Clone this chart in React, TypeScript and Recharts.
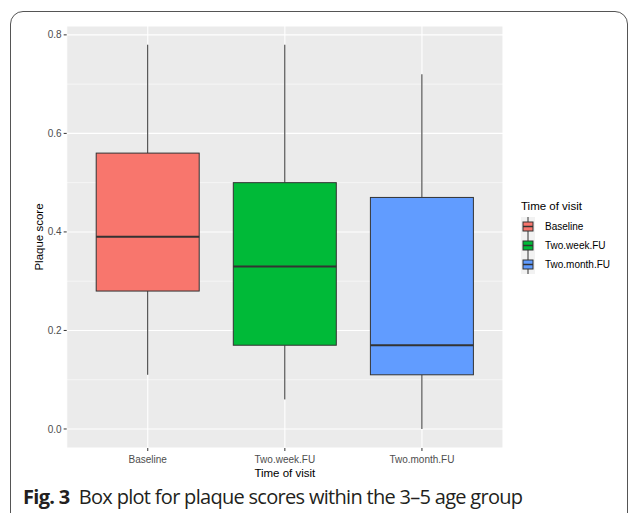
import React from 'react';
import { ComposedChart, Bar, XAxis, YAxis, CartesianGrid, ReferenceLine } from 'recharts';

const categories = ['Baseline', 'Two.week.FU', 'Two.month.FU'];
const whiskerLow = [0.11, 0.06, 0.0];
const q1Values = [0.28, 0.17, 0.11];
const medianValues = [0.39, 0.33, 0.17];
const q3Values = [0.56, 0.5, 0.47];
const whiskerHigh = [0.78, 0.78, 0.72];
const boxColors = ['#F8766D', '#00BA38', '#619CFF'];
const majorTicks = [0, 0.2, 0.4, 0.6, 0.8];
const minorTicks = [0.1, 0.3, 0.5, 0.7];
const yDomain = [-0.0386, 0.818];

const data = categories.map((c, i) => ({
  visit: c,
  range: [whiskerLow[i], whiskerHigh[i]],
  q1: q1Values[i],
  median: medianValues[i],
  q3: q3Values[i],
  fill: boxColors[i],
}));

const BoxShape = (props: any) => {
  const { x, y, width, height, payload } = props;
  const [lo, hi] = payload.range;
  const top = Math.min(y, y + height);
  const bottom = Math.max(y, y + height);
  const py = (v: number) => bottom - ((v - lo) / (hi - lo)) * (bottom - top);
  const cx = x + width / 2;
  return (
    <g>
      <line x1={cx} x2={cx} y1={py(hi)} y2={py(payload.q3)} stroke="#333333" strokeWidth={1} />
      <line x1={cx} x2={cx} y1={py(payload.q1)} y2={py(lo)} stroke="#333333" strokeWidth={1} />
      <rect
        x={x}
        y={py(payload.q3)}
        width={width}
        height={py(payload.q1) - py(payload.q3)}
        fill={payload.fill}
        stroke="#333333"
        strokeWidth={1}
      />
      <line x1={x} x2={x + width} y1={py(payload.median)} y2={py(payload.median)} stroke="#333333" strokeWidth={2} />
    </g>
  );
};

const LegendKey = ({ color }: { color: string }) => (
  <svg width={14} height={19} style={{ display: 'block' }}>
    <rect x={0} y={0} width={14} height={19} fill="#F2F2F2" />
    <line x1={7} x2={7} y1={0} y2={19} stroke="#333333" strokeWidth={1} />
    <rect x={2} y={5} width={10} height={9} fill={color} stroke="#333333" strokeWidth={1} />
    <line x1={2} x2={12} y1={9.5} y2={9.5} stroke="#333333" strokeWidth={1.5} />
  </svg>
);

export default function App() {
  const refProps: any = { zIndex: -50 };
  return (
    <div style={{ position: 'absolute', left: 0, top: 0, width: 629, height: 513, background: '#fff', overflow: 'hidden' }}>
      <div
        style={{
          position: 'absolute',
          left: 10,
          top: 11,
          width: 618,
          height: 540,
          border: '1.5px solid #555',
          borderRadius: 13,
          boxSizing: 'border-box',
        }}
      />
      <div style={{ position: 'absolute', left: 0, top: 0 }}>
        <ComposedChart
          width={629}
          height={513}
          data={data}
          margin={{ top: 26, right: 126, bottom: 35, left: 0 }}
          barSize={103}
        >
          <CartesianGrid fill="#EBEBEB" stroke="#FFFFFF" strokeWidth={1.1} vertical={true} horizontal={true} />
          {minorTicks.map((v) => (
            <ReferenceLine key={v} y={v} stroke="#FFFFFF" strokeWidth={0.55} {...refProps} />
          ))}
          <XAxis
            dataKey="visit"
            type="category"
            padding={{ left: 12.5, right: 12.5 }}
            axisLine={false}
            tickLine={{ stroke: '#333333' }}
            tickSize={3}
            height={30}
            tick={{ fontSize: 10, fill: '#4D4D4D', fontFamily: 'Liberation Sans', dy: 3 }}
            label={{ value: 'Time of visit', position: 'insideBottom', offset: 0, dy: -1, fontSize: 11.5, fill: '#000', fontFamily: 'Liberation Sans' }}
          />
          <YAxis
            type="number"
            domain={yDomain}
            ticks={majorTicks}
            allowDataOverflow={true}
            width={66.7}
            axisLine={false}
            tickLine={{ stroke: '#333333' }}
            tickSize={3}
            tickFormatter={(v: number) => v.toFixed(1)}
            tick={{ fontSize: 10, fill: '#4D4D4D', fontFamily: 'Liberation Sans' }}
            label={{ value: 'Plaque score', angle: -90, position: 'insideLeft', offset: 0, dx: 39, fontSize: 11.5, fill: '#000', fontFamily: 'Liberation Sans', style: { textAnchor: 'middle' } }}
          />
          <Bar dataKey="range" shape={<BoxShape />} isAnimationActive={false} />
        </ComposedChart>
      </div>
      <div style={{ position: 'absolute', left: 521, top: 199, fontFamily: 'Liberation Sans' }}>
        <div style={{ fontSize: 11.5, color: '#000', marginBottom: 4, lineHeight: '14px' }}>Time of visit</div>
        {categories.map((c, i) => (
          <div key={c} style={{ display: 'flex', alignItems: 'center', height: 19 }}>
            <LegendKey color={boxColors[i]} />
            <span style={{ fontSize: 10, color: '#000', marginLeft: 10 }}>{c}</span>
          </div>
        ))}
      </div>
      <div
        style={{
          position: 'absolute',
          left: 23,
          top: 485,
          fontFamily: "'Open Sans'",
          fontSize: 20,
          lineHeight: '24px',
          color: '#231F20',
          whiteSpace: 'nowrap',
          letterSpacing: -0.7,
        }}
      >
        <b style={{ fontWeight: 700 }}>Fig. 3</b>
        <span>{'\u2002Box plot for plaque scores within the 3–5 age group'}</span>
      </div>
    </div>
  );
}
